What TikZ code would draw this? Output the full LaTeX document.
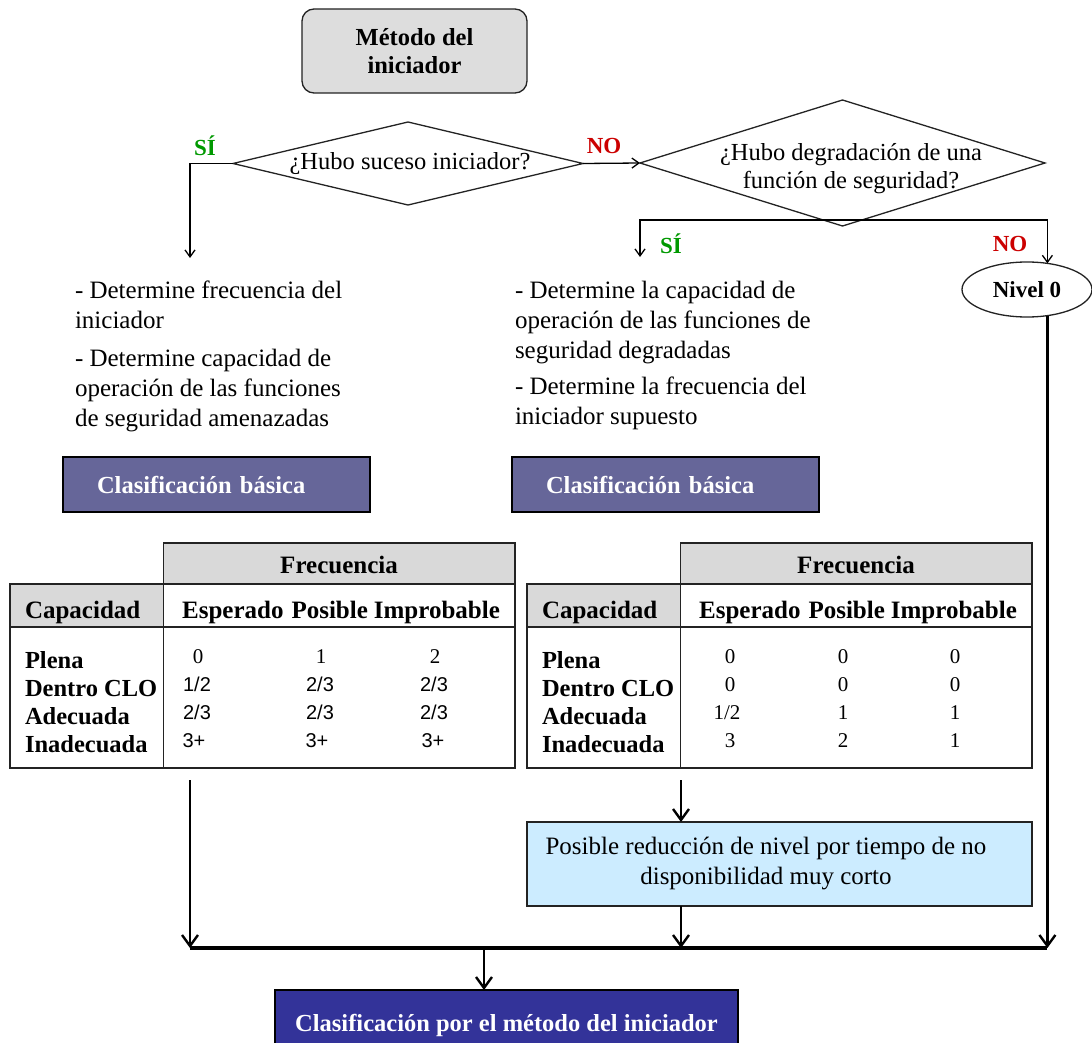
\documentclass[tikz,border=0pt]{standalone}
\usepackage{fontspec}
\setmainfont{Liberation Serif}
\newfontfamily\sansnum{Liberation Sans}
\usetikzlibrary{arrows.meta,shapes.geometric}

\definecolor{grisbox}{RGB}{221,221,221}
\definecolor{grishead}{RGB}{217,217,217}
\definecolor{lila}{RGB}{102,102,153}
\definecolor{celeste}{RGB}{204,236,255}
\definecolor{azul}{RGB}{51,51,153}
\definecolor{verde}{RGB}{0,153,0}
\definecolor{rojo}{RGB}{204,0,0}
\definecolor{borde}{RGB}{35,35,35}

% Frame, headers and row labels of one frequency/capacity table
% #1 = name prefix, #2 = left edge
\newcommand{\tablaFrec}[2]{%
  \begin{scope}[xshift=#2pt]
    \filldraw[tabhead] (153.5,543) rectangle (505,584);
    \node[thead] (#1frec) at (329,573) {Frecuencia};
    \filldraw[tabhead] (0,584) rectangle (153.5,627);
    \draw[tabline] (153.5,584) rectangle (505,627);
    \draw[tabline] (0,627) rectangle (153.5,768);
    \draw[tabline] (153.5,627) rectangle (505,768);
    \node[thead, anchor=base west] (#1cap) at (15,618) {Capacidad};
    \node[thead] (#1cols) at (331,618) {Esperado\hspace{8pt}Posible\hspace{6pt}Improbable};
    \node[trow] (#1r1) at (15,668) {Plena};
    \node[trow] (#1r2) at (15,696) {Dentro CLO};
    \node[trow] (#1r3) at (15,724) {Adecuada};
    \node[trow] (#1r4) at (15,752) {Inadecuada};
  \end{scope}}

\begin{document}
\begin{tikzpicture}[x=1pt,y=-1pt,
  every node/.style={inner sep=0pt, outer sep=0pt},
  body/.style={font=\fontsize{25}{30}\selectfont, align=left, anchor=north west},
  question/.style={font=\fontsize{24.5}{28}\selectfont, align=center},
  topbox/.style={draw=borde, line width=1.3pt, fill=grisbox, rounded corners=12pt,
    minimum width=225pt, minimum height=84pt, align=center,
    font=\fontsize{24.5}{28}\selectfont\bfseries},
  diam/.style={draw=borde, line width=1.3pt},
  silabel/.style={text=verde, font=\fontsize{23}{26}\selectfont\bfseries},
  nolabel/.style={text=rojo, font=\fontsize{23}{26}\selectfont\bfseries},
  nivel/.style={draw=borde, line width=1.3pt, ellipse, minimum width=130pt,
    minimum height=55pt, font=\fontsize{23}{26}\selectfont\bfseries},
  clbox/.style={draw=black, line width=1.6pt, fill=lila, text=white,
    minimum height=55pt, text width=239pt, inner xsep=34pt, align=left,
    font=\fontsize{24.5}{28}\selectfont\bfseries},
  tabhead/.style={draw=borde, line width=1.4pt, fill=grishead},
  tabline/.style={draw=borde, line width=1.4pt},
  thead/.style={anchor=base, font=\fontsize{25}{28}\selectfont\bfseries},
  trow/.style={anchor=base west, font=\fontsize{24.5}{28}\selectfont\bfseries},
  vserif/.style={anchor=base, font=\fontsize{21}{24}\selectfont},
  vsans/.style={anchor=base, font=\fontsize{20}{24}\sansnum},
  celbox/.style={draw=borde, line width=1.4pt, fill=celeste,
    minimum width=505pt, minimum height=84pt},
  finbox/.style={draw=black, line width=1.6pt, fill=azul, text=white,
    minimum width=463pt, minimum height=70pt,
    font=\fontsize{24.5}{28}\selectfont\bfseries},
  flecha/.style={draw=black, line width=1.3pt,
    -{Straight Barb[length=7pt,width=10pt]}},
  flechaG/.style={draw=black, line width=2.4pt,
    -{Straight Barb[length=11pt,width=16pt]}},
  bus/.style={draw=black, line width=3.2pt}
]
\useasboundingbox (0,0) rectangle (1092,1043);
\fill[white] (0,0) rectangle (1092,1043);

% start of the method
\node[topbox] (inicio) at (414.5,51) {Método del\\iniciador};

% first decision
\coordinate (d1l) at (233,163.5);
\coordinate (d1t) at (408,122);
\coordinate (d1r) at (583,163.5);
\coordinate (d1b) at (408,205);
\draw[diam] (d1l) -- (d1t) -- (d1r) -- (d1b) -- cycle;
\node[question] (q1) at (410,164) {¿Hubo suceso iniciador?};

% second decision
\coordinate (d2l) at (640,163);
\coordinate (d2t) at (842.5,100);
\coordinate (d2r) at (1045,163);
\coordinate (d2b) at (842.5,226);
\draw[diam] (d2l) -- (d2t) -- (d2r) -- (d2b) -- cycle;
\node[question] (q2) at (851,169) {¿Hubo degradación de una\\función de seguridad?};

% branch labels
\node[silabel] (si1) at (205,146) {SÍ};
\node[nolabel] (no1) at (604,146) {NO};
\node[silabel] (si2) at (671,244) {SÍ};
\node[nolabel] (no2) at (1010,244) {NO};

% level 0 terminal
\node[nivel] (n0) at (1027,289.5) {Nivel 0};

% instructions for each branch
\node[body] (txtA) at (75,277) {\strut- Determine frecuencia del\\iniciador\\[8pt]- Determine capacidad de\\operación de las funciones\\de seguridad amenazadas};
\node[body] (txtB) at (515,277) {\strut- Determine la capacidad de\\operación de las funciones de\\seguridad degradadas\\[6pt]- Determine la frecuencia del\\iniciador supuesto};

% decision connectors
\coordinate (a1) at (190,258);
\draw[flecha] (d1l) -| (a1);
\draw[flecha] (d1r) -- (d2l);
\coordinate (b2) at (842.5,220);
\coordinate (a2) at (640,257);
\draw[flecha] (b2) -| (a2);
\draw[flecha] (b2) -| (n0.52);

% basic classification
\node[clbox] (cbA) at (216.5,484.5) {Clasificación básica};
\node[clbox] (cbB) at (665.5,484.5) {Clasificación básica};

% tables
\tablaFrec{ta}{10}
\tablaFrec{tb}{527}

% values, left table
\node[vserif] (ta11) at (198,663) {0};
\node[vserif] (ta12) at (321,663) {1};
\node[vserif] (ta13) at (435,663) {2};
\node[vsans] (ta21) at (197,691) {1/2};
\node[vsans] (ta22) at (320,691) {2/3};
\node[vsans] (ta23) at (434,691) {2/3};
\node[vsans] (ta31) at (197,719) {2/3};
\node[vsans] (ta32) at (320,719) {2/3};
\node[vsans] (ta33) at (434,719) {2/3};
\node[vsans] (ta41) at (194,747) {3+};
\node[vsans] (ta42) at (317,747) {3+};
\node[vsans] (ta43) at (433,747) {3+};

% values, right table
\node[vserif] (tb11) at (730,663) {0};
\node[vserif] (tb12) at (843,663) {0};
\node[vserif] (tb13) at (955,663) {0};
\node[vserif] (tb21) at (730,691) {0};
\node[vserif] (tb22) at (843,691) {0};
\node[vserif] (tb23) at (955,691) {0};
\node[vserif] (tb31) at (727,719) {1/2};
\node[vserif] (tb32) at (843,719) {1};
\node[vserif] (tb33) at (955,719) {1};
\node[vserif] (tb41) at (730,747) {3};
\node[vserif] (tb42) at (843,747) {2};
\node[vserif] (tb43) at (955,747) {1};

% level reduction
\node[celbox] (red) at (779.5,864) {};
\node[question, font=\fontsize{25}{30}\selectfont] (redtxt) at (766,863) {Posible reducción de nivel por tiempo de no\\disponibilidad muy corto};

% final classification
\node[finbox] (fin) at (506.5,1025) {Clasificación por el método del iniciador};

% collecting connectors
\coordinate (tA) at (190,780);
\coordinate (tB) at (681,780);
\coordinate (busL) at (190,948);
\coordinate (busM) at (484,948);
\draw[bus] (busL) -- (n0.-52 |- busL);
\draw[flechaG] (tA) -- (busL);
\draw[flechaG] (tB) -- (tB |- red.north);
\draw[flechaG] (tB |- red.south) -- (tB |- busL);
\draw[flechaG] (n0.-52) -- (n0.-52 |- busL);
\draw[flechaG] (busM) -- (busM |- fin.north);
\end{tikzpicture}
\end{document}
